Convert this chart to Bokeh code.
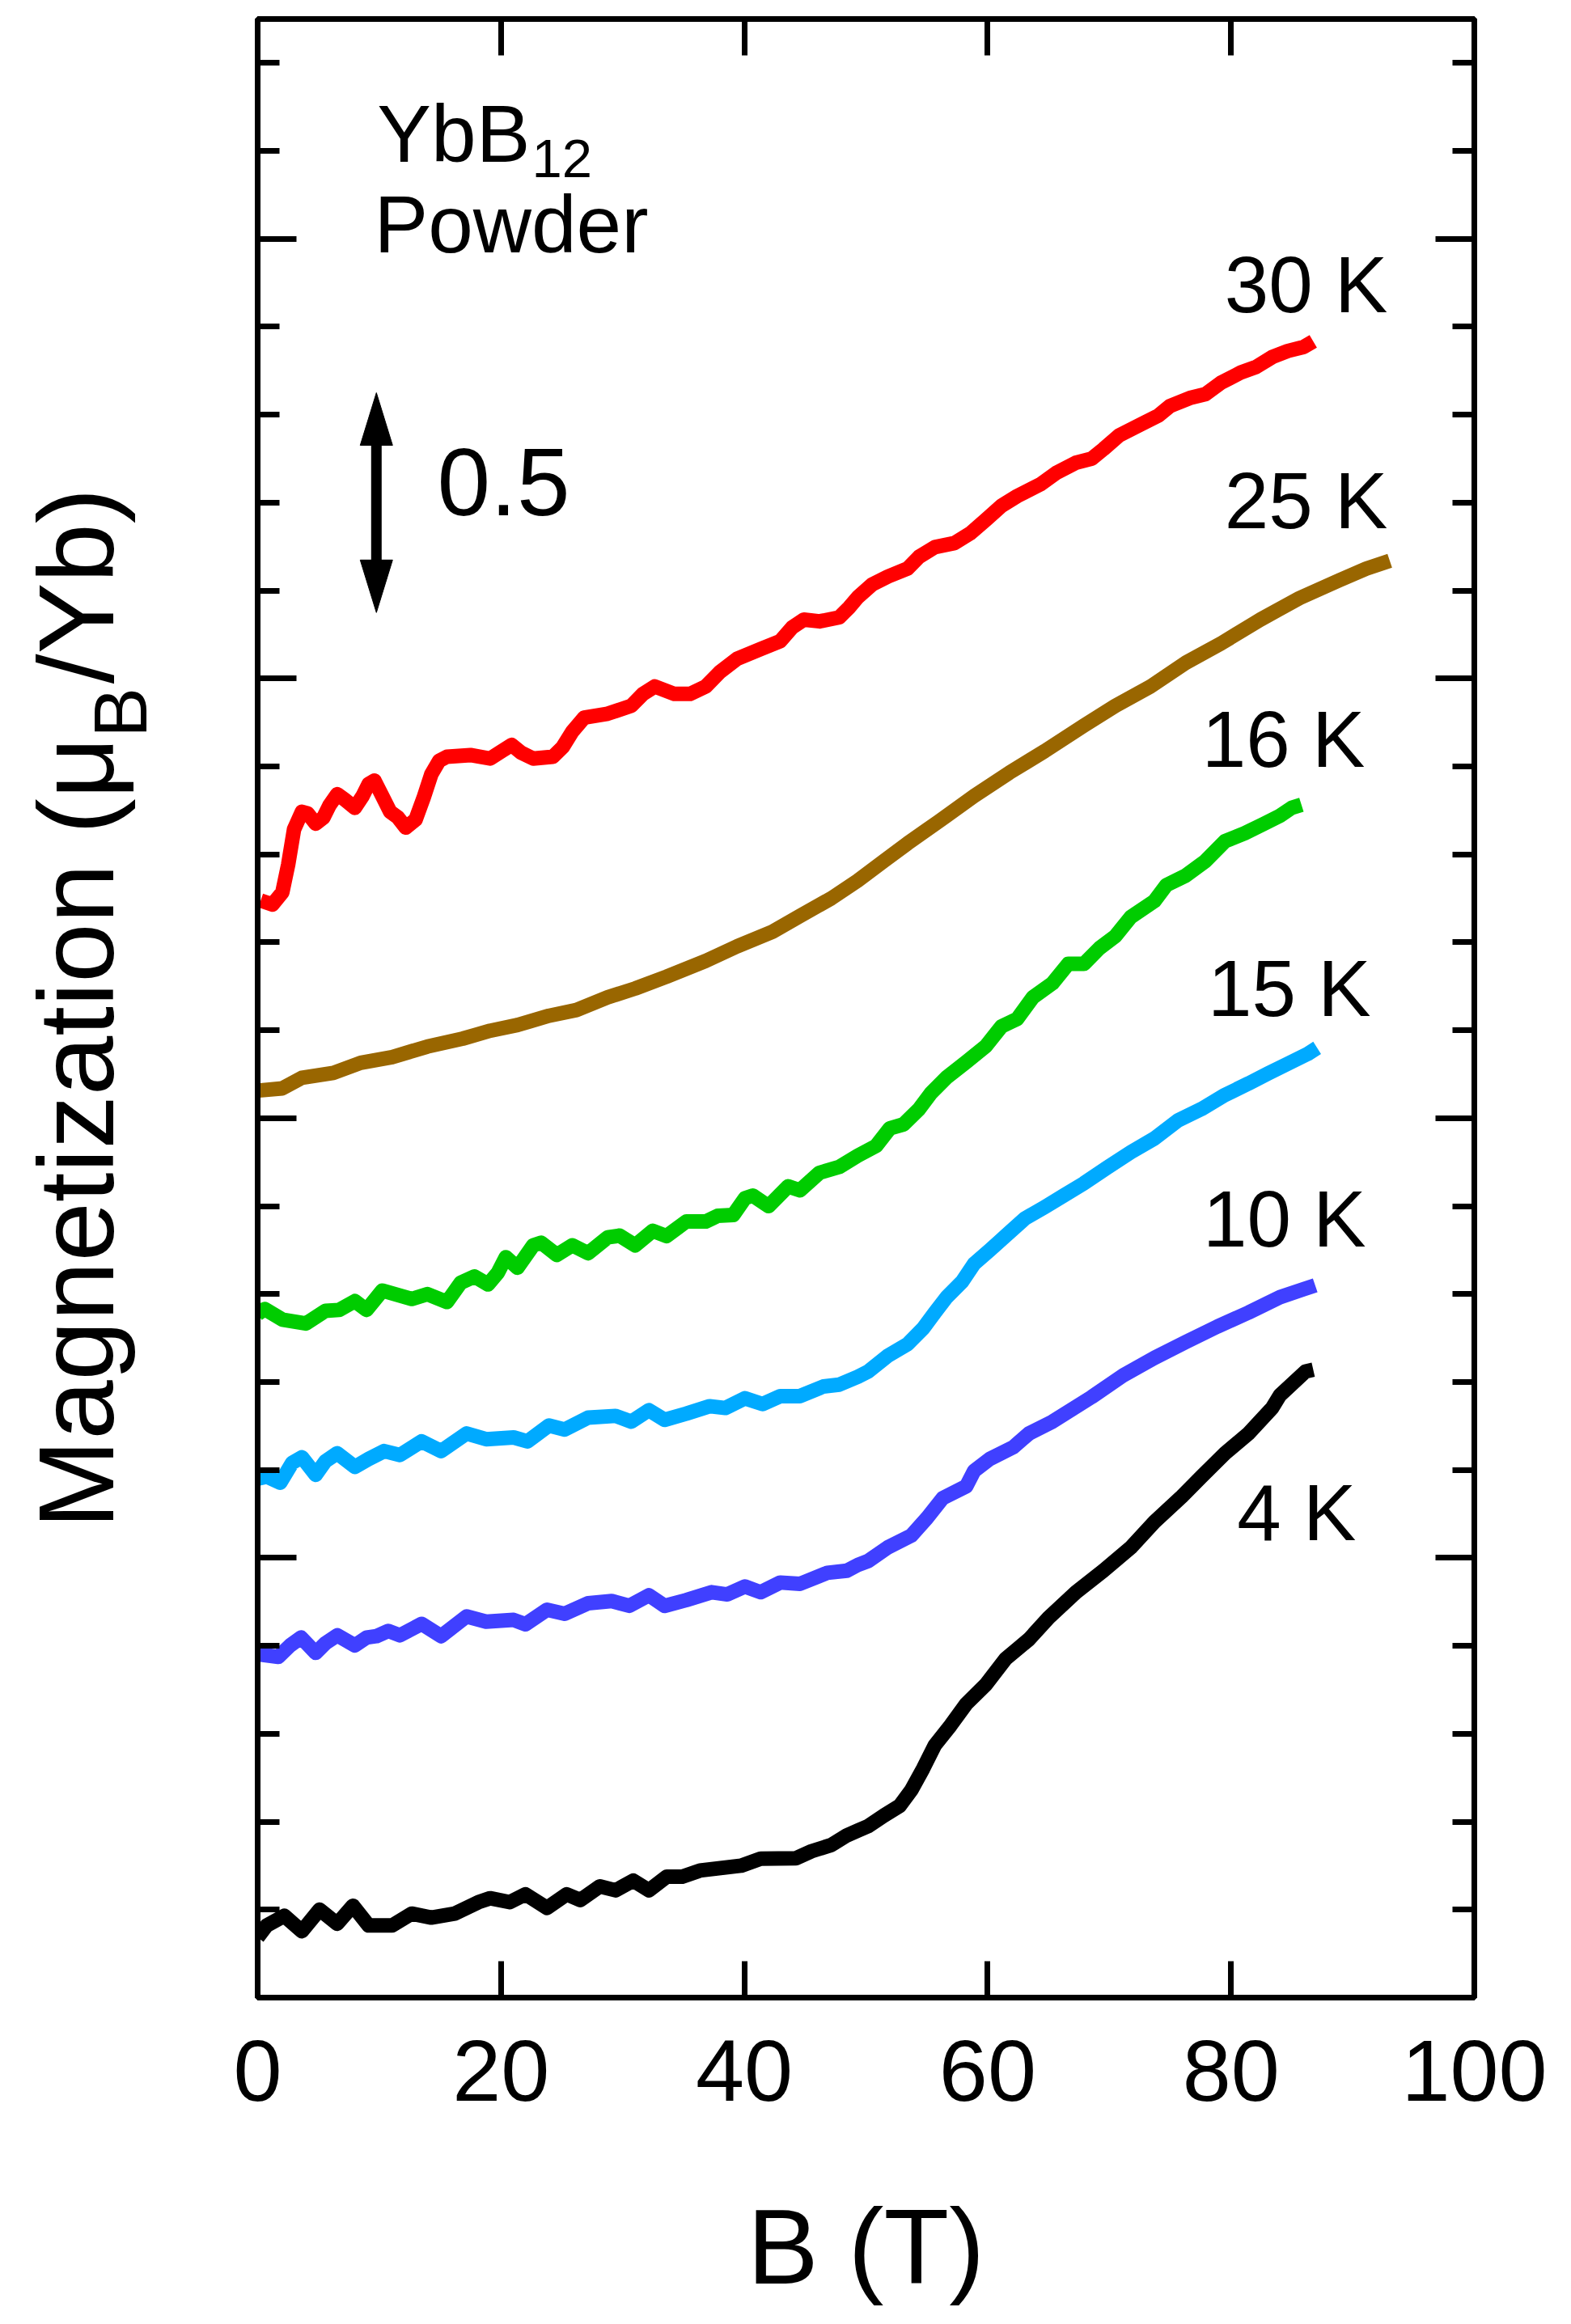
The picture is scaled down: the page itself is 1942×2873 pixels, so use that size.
import numpy as np
from bokeh.plotting import figure
from bokeh.models import Range1d, LinearAxis, FixedTicker, Label
from bokeh.embed import file_html
from bokeh.resources import INLINE

# ---------------- data ----------------
x_ticks = [0, 20, 40, 60, 80, 100]
y_major_ticks = [0, 1, 2, 3, 4]
y_minor_ticks = [round(0.2 * k, 1) for k in range(23)]

b_30K = [0.25, 1.22, 2.03, 2.51, 2.99, 3.64, 4.12, 4.77, 5.41, 5.89, 6.54, 7.18, 7.99, 8.63, 9.12, 9.60,
         10.24, 10.89, 11.53, 12.18, 12.98, 13.63, 14.27, 14.92, 15.56, 17.49, 19.11, 20.07, 20.88, 21.68,
         22.65, 24.26, 25.07, 25.88, 26.84, 28.77, 30.71, 31.67, 32.64, 34.25, 35.54, 36.83, 37.96, 39.41,
         41.34, 42.95, 43.92, 44.89, 46.18, 47.79, 48.59, 49.33, 50.51, 51.80, 53.41, 54.37, 55.66, 57.27,
         58.56, 59.85, 61.14, 62.43, 64.36, 65.65, 67.26, 68.55, 69.52, 70.81, 72.74, 74.03, 75.00, 76.61,
         77.90, 79.19, 80.80, 82.09, 83.38, 84.67, 85.96, 86.76]
m_30K = [2.495, 2.486, 2.514, 2.577, 2.657, 2.697, 2.693, 2.670, 2.684, 2.711, 2.737, 2.724, 2.706, 2.733,
         2.760, 2.768, 2.733, 2.697, 2.684, 2.661, 2.679, 2.728, 2.782, 2.813, 2.822, 2.826, 2.818, 2.835,
         2.849, 2.831, 2.818, 2.822, 2.844, 2.880, 2.911, 2.920, 2.938, 2.965, 2.982, 2.965, 2.965, 2.982,
         3.014, 3.045, 3.067, 3.085, 3.116, 3.134, 3.130, 3.139, 3.161, 3.185, 3.214, 3.232, 3.250, 3.277,
         3.299, 3.308, 3.330, 3.361, 3.393, 3.415, 3.442, 3.468, 3.491, 3.500, 3.522, 3.553, 3.580, 3.598,
         3.620, 3.638, 3.647, 3.673, 3.696, 3.709, 3.731, 3.745, 3.754, 3.767]

b_25K = [0.10, 2.03, 3.64, 6.22, 8.47, 11.05, 13.95, 16.85, 19.11, 21.36, 23.94, 26.20, 28.77, 31.03,
         33.61, 36.83, 39.41, 42.31, 44.57, 47.14, 49.30, 51.47, 53.41, 55.98, 58.89, 61.79, 64.69, 67.91,
         70.49, 73.39, 76.29, 79.19, 82.41, 85.63, 88.86, 91.11, 93.05]
m_25K = [2.063, 2.068, 2.092, 2.103, 2.126, 2.139, 2.163, 2.181, 2.199, 2.212, 2.233, 2.246, 2.275, 2.295,
         2.322, 2.358, 2.391, 2.424, 2.460, 2.500, 2.540, 2.585, 2.625, 2.675, 2.733, 2.786, 2.835, 2.893,
         2.938, 2.982, 3.036, 3.080, 3.134, 3.183, 3.223, 3.250, 3.268]

b_16K = [0.0, 0.58, 2.03, 3.96, 5.57, 6.70, 7.99, 8.95, 10.24, 12.66, 13.95, 15.56, 16.69, 17.82, 18.94,
         19.75, 20.40, 21.36, 22.65, 23.30, 24.59, 25.87, 27.16, 28.77, 29.74, 31.03, 32.48, 33.61, 35.22,
         36.83, 37.80, 39.09, 40.05, 40.70, 41.99, 43.60, 44.57, 46.18, 47.79, 49.33, 50.83, 51.96, 53.08,
         54.37, 55.34, 56.63, 58.24, 59.85, 61.14, 62.43, 63.72, 65.33, 66.62, 67.91, 69.20, 70.49, 71.78,
         73.71, 74.68, 76.29, 77.90, 79.51, 81.12, 82.73, 84.02, 84.99, 85.79]
m_16K = [1.555, 1.566, 1.542, 1.533, 1.562, 1.564, 1.584, 1.564, 1.608, 1.589, 1.600, 1.582, 1.626, 1.640,
         1.622, 1.649, 1.684, 1.660, 1.711, 1.717, 1.689, 1.711, 1.693, 1.729, 1.733, 1.711, 1.744, 1.732,
         1.765, 1.765, 1.778, 1.780, 1.818, 1.824, 1.800, 1.845, 1.836, 1.876, 1.889, 1.915, 1.937, 1.977,
         1.986, 2.021, 2.057, 2.093, 2.128, 2.164, 2.209, 2.226, 2.275, 2.307, 2.351, 2.351, 2.387, 2.414,
         2.458, 2.494, 2.530, 2.552, 2.585, 2.630, 2.648, 2.670, 2.688, 2.706, 2.713]

b_15K = [0.0, 0.74, 1.86, 2.83, 3.64, 4.77, 5.57, 6.54, 7.99, 9.12, 10.40, 11.69, 13.47, 15.08, 17.17,
         18.78, 21.04, 22.17, 23.94, 25.23, 27.16, 29.42, 30.71, 32.16, 33.45, 35.22, 37.15, 38.44, 40.05,
         41.50, 42.95, 44.57, 46.50, 47.79, 49.33, 50.18, 51.80, 53.41, 54.70, 55.66, 56.63, 57.92, 58.89,
         60.17, 61.46, 63.07, 64.69, 66.30, 67.91, 69.84, 71.78, 73.71, 75.64, 77.58, 79.51, 81.44, 83.05,
         84.67, 86.28, 87.08]
m_15K = [1.180, 1.185, 1.171, 1.216, 1.229, 1.189, 1.220, 1.238, 1.207, 1.225, 1.243, 1.234, 1.265, 1.243,
         1.283, 1.270, 1.274, 1.265, 1.301, 1.292, 1.319, 1.323, 1.310, 1.336, 1.314, 1.328, 1.345, 1.341,
         1.363, 1.350, 1.368, 1.368, 1.390, 1.394, 1.412, 1.424, 1.460, 1.486, 1.522, 1.558, 1.593, 1.629,
         1.669, 1.700, 1.732, 1.772, 1.798, 1.825, 1.852, 1.888, 1.923, 1.954, 1.995, 2.021, 2.053, 2.079,
         2.102, 2.124, 2.146, 2.160]

b_10K = [0.0, 1.70, 2.67, 3.57, 4.77, 5.57, 6.54, 7.99, 8.95, 9.76, 10.73, 11.69, 13.47, 15.08, 17.17,
         18.78, 21.04, 22.01, 23.78, 25.23, 27.16, 29.10, 30.55, 32.16, 33.45, 35.22, 37.31, 38.60, 40.05,
         41.34, 42.95, 44.57, 46.82, 48.43, 49.33, 50.18, 51.80, 53.73, 55.02, 56.31, 58.24, 58.89, 60.17,
         62.11, 63.40, 65.33, 68.55, 71.13, 73.71, 76.29, 78.87, 81.44, 84.02, 85.96, 86.92]
m_10K = [0.781, 0.775, 0.801, 0.819, 0.784, 0.806, 0.824, 0.801, 0.819, 0.822, 0.834, 0.824, 0.850, 0.822,
         0.867, 0.855, 0.859, 0.849, 0.882, 0.873, 0.897, 0.902, 0.891, 0.915, 0.891, 0.904, 0.922, 0.917,
         0.935, 0.922, 0.944, 0.941, 0.966, 0.971, 0.984, 0.993, 1.024, 1.051, 1.091, 1.136, 1.163, 1.198,
         1.225, 1.252, 1.283, 1.310, 1.366, 1.415, 1.455, 1.491, 1.526, 1.558, 1.593, 1.611, 1.620]

b_4K = [0.0, 0.74, 2.19, 3.64, 5.09, 6.54, 7.83, 9.12, 11.05, 12.66, 14.27, 16.20, 18.14, 19.11, 20.72,
        22.01, 23.78, 25.39, 26.52, 28.13, 29.42, 30.87, 32.16, 33.61, 34.90, 36.35, 39.73, 41.34, 44.24,
        45.53, 47.14, 48.43, 49.33, 50.18, 51.47, 52.76, 53.73, 54.70, 55.66, 56.95, 58.24, 59.85, 61.46,
        63.40, 65.01, 67.26, 69.52, 71.78, 73.71, 75.97, 77.58, 79.51, 81.44, 83.38, 84.02, 86.12, 86.76]
m_4K = [0.137, 0.164, 0.186, 0.151, 0.200, 0.168, 0.209, 0.164, 0.164, 0.191, 0.182, 0.191, 0.217, 0.226,
        0.217, 0.235, 0.204, 0.235, 0.222, 0.253, 0.244, 0.266, 0.244, 0.275, 0.275, 0.289, 0.300, 0.316,
        0.317, 0.333, 0.347, 0.369, 0.380, 0.390, 0.414, 0.436, 0.472, 0.521, 0.574, 0.619, 0.668, 0.712,
        0.770, 0.815, 0.864, 0.922, 0.971, 1.024, 1.082, 1.140, 1.185, 1.238, 1.283, 1.341, 1.370, 1.424,
        1.428]

series_names = ["30 K", "25 K", "16 K", "15 K", "10 K", "4 K"]
series_b = [b_30K, b_25K, b_16K, b_15K, b_10K, b_4K]
series_m = [m_30K, m_25K, m_16K, m_15K, m_10K, m_4K]
series_colors = ["#FF0000", "#996600", "#00CC00", "#00AAFF", "#4040FF", "#000000"]

# label anchor positions (data units): right edge, baseline
label_x = [92.88, 92.88, 91.02, 91.49, 91.09, 90.29]
label_y = [3.830, 3.339, 2.797, 2.231, 1.705, 1.038]

# scale-bar arrow (0.5 muB)
arrow_x = 9.76
arrow_y0 = 3.15
arrow_y1 = 3.65

FONT = "Liberation Sans"
FRAME_W, FRAME_H = 1504, 2446
X0, X1, Y0, Y1 = 0, 100, 0, 4.5
px_x = FRAME_W / (X1 - X0)
px_y = FRAME_H / (Y1 - Y0)
BASE_FIX = 0.36      # em; moves the anchor so the glyph baseline lands where wanted
BASE_FIX_ROT = 0.25

p = figure(width=1942, height=2873, frame_width=FRAME_W, frame_height=FRAME_H,
           x_range=Range1d(X0, X1), y_range=Range1d(Y0, Y1),
           output_backend="svg", toolbar_location=None,
           min_border_left=318, min_border_right=120, min_border_top=23, min_border_bottom=404)
p.grid.visible = False
p.outline_line_color = "black"
p.outline_line_width = 7
p.background_fill_color = "white"
p.border_fill_color = "white"


def style_x(ax, labels):
    ax.ticker = FixedTicker(ticks=x_ticks)
    ax.axis_line_width = 7
    ax.major_tick_in = 45
    ax.major_tick_out = 0
    ax.major_tick_line_width = 7
    ax.minor_tick_line_color = None
    if labels:
        ax.major_label_text_font = FONT
        ax.major_label_text_font_size = "108px"
        ax.major_label_text_color = "black"
        ax.major_label_standoff = 53
    else:
        ax.major_label_text_color = None
        ax.major_label_text_font_size = "10px"
        ax.major_label_standoff = 0


def style_y(ax):
    ax.ticker = FixedTicker(ticks=y_major_ticks, minor_ticks=y_minor_ticks)
    ax.axis_line_width = 7
    ax.major_tick_in = 48
    ax.major_tick_out = 0
    ax.minor_tick_in = 27
    ax.minor_tick_out = 0
    ax.major_tick_line_width = 7
    ax.minor_tick_line_width = 7
    ax.major_label_text_color = None
    ax.major_label_text_font_size = "10px"
    ax.major_label_standoff = 0


xa = p.xaxis[0]
style_x(xa, True)
xa.axis_label = "B (T)"
xa.axis_label_text_font = FONT
xa.axis_label_text_font_size = "132px"
xa.axis_label_text_font_style = "normal"
xa.axis_label_text_color = "black"
xa.axis_label_standoff = 104

ya = p.yaxis[0]
style_y(ya)
# en space leaves room for the subscript B drawn separately below
ya.axis_label = "Magnetization (\u03bc\u2002/Yb)"
ya.axis_label_text_font = FONT
ya.axis_label_text_font_size = "132px"
ya.axis_label_text_font_style = "normal"
ya.axis_label_text_color = "black"
ya.axis_label_standoff = 151

top_ax = LinearAxis()
style_x(top_ax, False)
p.add_layout(top_ax, "above")
right_ax = LinearAxis()
style_y(right_ax)
p.add_layout(right_ax, "right")

# curves
for b, m, c in zip(series_b, series_m, series_colors):
    p.line(b, m, line_color=c, line_width=18, line_join="round")


def text(x, y, s, size, align="left", angle=0.0, place="center"):
    if angle == 0.0:
        y = y + BASE_FIX * size / px_y
    else:
        x = x - BASE_FIX_ROT * size / px_x
    lab = Label(x=x, y=y, text=s, text_font=FONT, text_font_size=f"{size}px", text_align=align,
                text_baseline="alphabetic", text_color="black", angle=angle)
    if place == "center":
        p.add_layout(lab)
    else:
        p.add_layout(lab, place)


# temperature labels
for name, lx, ly in zip(series_names, label_x, label_y):
    text(lx, ly, name, 98, align="right")

# sample label
text(9.83, 4.173, "YbB", 100)
text(22.54, 4.138, "12", 67)
text(9.57, 3.968, "Powder", 100)

# scale arrow
head_len = 65 / px_y
head_hw = 20 / px_x
p.segment(x0=[arrow_x], y0=[arrow_y0 + head_len * 0.6], x1=[arrow_x], y1=[arrow_y1 - head_len * 0.6],
          line_color="black", line_width=13)
p.patches(xs=[[arrow_x - head_hw, arrow_x + head_hw, arrow_x], [arrow_x - head_hw, arrow_x + head_hw, arrow_x]],
          ys=[[arrow_y1 - head_len, arrow_y1 - head_len, arrow_y1], [arrow_y0 + head_len, arrow_y0 + head_len, arrow_y0]],
          fill_color="black", line_color="black", line_width=1)
text(14.76, 3.368, "0.5", 118)

# subscript B of the y title; kept in a side panel so it is not clipped to the frame
text(-9.71, 2.866, "B", 93, angle=np.pi / 2, place="right")

open("out.html", "w").write(file_html(p, INLINE))
